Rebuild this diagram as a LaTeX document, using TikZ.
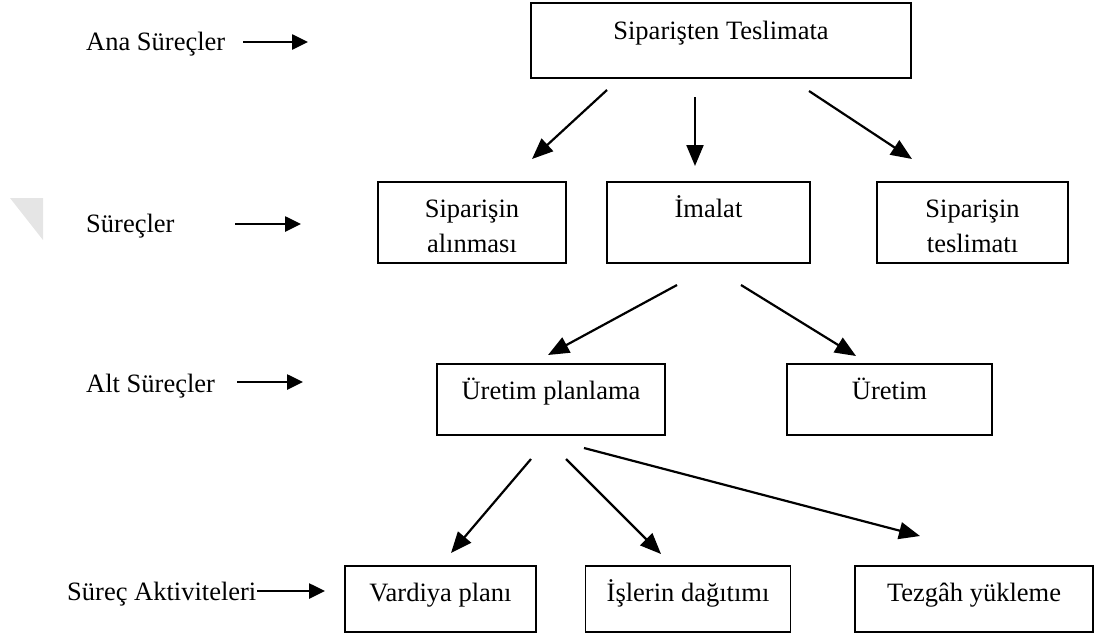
\documentclass[tikz,border=0pt]{standalone}
\usepackage{fontspec}
\setmainfont{Liberation Serif}
\usetikzlibrary{arrows.meta}
\begin{document}
\begin{tikzpicture}[x=1pt,y=-1pt,
  every node/.style={font=\fontsize{26.5}{35}\selectfont, inner sep=0pt},
  stepbox/.style={draw=black, line width=1.8pt, rectangle, minimum width=#1},
  txt/.style={anchor=base, align=center},
  conn/.style={line width=2.2pt, -{Triangle[length=21pt,width=17pt]}},
  side/.style={line width=2.6pt, -{Triangle[length=16pt,width=15pt]}}]
\useasboundingbox (0,0) rectangle (1094,637);

% faint corner mark on the left edge
\fill[black!10] (10,198) -- (43,198) -- (43,240) -- cycle;

% level labels on the left
\node[anchor=base west] (lA) at (86,50) {Ana Süreçler};
\node[anchor=base west] (lB) at (86,232) {Süreçler};
\node[anchor=base west] (lC) at (86,392) {Alt Süreçler};
\node[anchor=base west] (lD) at (67,600) {Süreç Aktiviteleri};

\coordinate (lAs) at (243,42);  \coordinate (lAe) at (308,42);
\coordinate (lBs) at (235,224); \coordinate (lBe) at (301,224);
\coordinate (lCs) at (237,382); \coordinate (lCe) at (303,382);
\coordinate (lDs) at (257,591); \coordinate (lDe) at (325,591);
\draw[side] (lAs) -- (lAe);
\draw[side] (lBs) -- (lBe);
\draw[side] (lCs) -- (lCe);
\draw[side] (lDs) -- (lDe);

% boxes
\node[stepbox=380pt, minimum height=75pt] (top) at (721,40.5) {};
\node[stepbox=188pt, minimum height=81pt] (sa) at (472,222.5) {};
\node[stepbox=203pt, minimum height=81pt] (im) at (708.5,222.5) {};
\node[stepbox=191pt, minimum height=81pt] (st) at (972.5,222.5) {};
\node[stepbox=228pt, minimum height=71pt] (up) at (551,399.5) {};
\node[stepbox=205pt, minimum height=71pt] (ur) at (889.5,399.5) {};
\node[stepbox=191pt, minimum height=66pt] (vp) at (440.5,599) {};
\node[stepbox=205pt, minimum height=66pt] (id) at (688,599) {};
\node[stepbox=238pt, minimum height=66pt] (tz) at (974,599) {};

% box texts (two-line texts sit on the baseline of their last line)
\node[txt] (topT) at (721,39) {Siparişten Teslimata};
\node[txt] (saT) at (472,252) {Siparişin\\alınması};
\node[txt] (imT) at (708.5,217) {İmalat};
\node[txt] (stT) at (972.5,252) {Siparişin\\teslimatı};
\node[txt] (upT) at (551,399) {Üretim planlama};
\node[txt] (urT) at (889.5,399) {Üretim};
\node[txt] (vpT) at (440.5,601) {Vardiya planı};
\node[txt] (idT) at (688,601) {İşlerin dağıtımı};
\node[txt] (tzT) at (974,601) {Tezgâh yükleme};

% connectors
\coordinate (c1s) at (607,90);  \coordinate (c1e) at (532,159);
\coordinate (c2s) at (695,97);  \coordinate (c2e) at (695,166);
\coordinate (c3s) at (809,91);  \coordinate (c3e) at (912,159);
\coordinate (c4s) at (677,285); \coordinate (c4e) at (548,355);
\coordinate (c5s) at (741,285); \coordinate (c5e) at (856,356);
\coordinate (c6s) at (531,459); \coordinate (c6e) at (451,553);
\coordinate (c7s) at (566,459); \coordinate (c7e) at (661,554);
\coordinate (c8s) at (584,448); \coordinate (c8e) at (920,536);
\draw[conn] (c1s) -- (c1e);
\draw[conn] (c2s) -- (c2e);
\draw[conn] (c3s) -- (c3e);
\draw[conn] (c4s) -- (c4e);
\draw[conn] (c5s) -- (c5e);
\draw[conn] (c6s) -- (c6e);
\draw[conn] (c7s) -- (c7e);
\draw[conn] (c8s) -- (c8e);
\end{tikzpicture}
\end{document}
